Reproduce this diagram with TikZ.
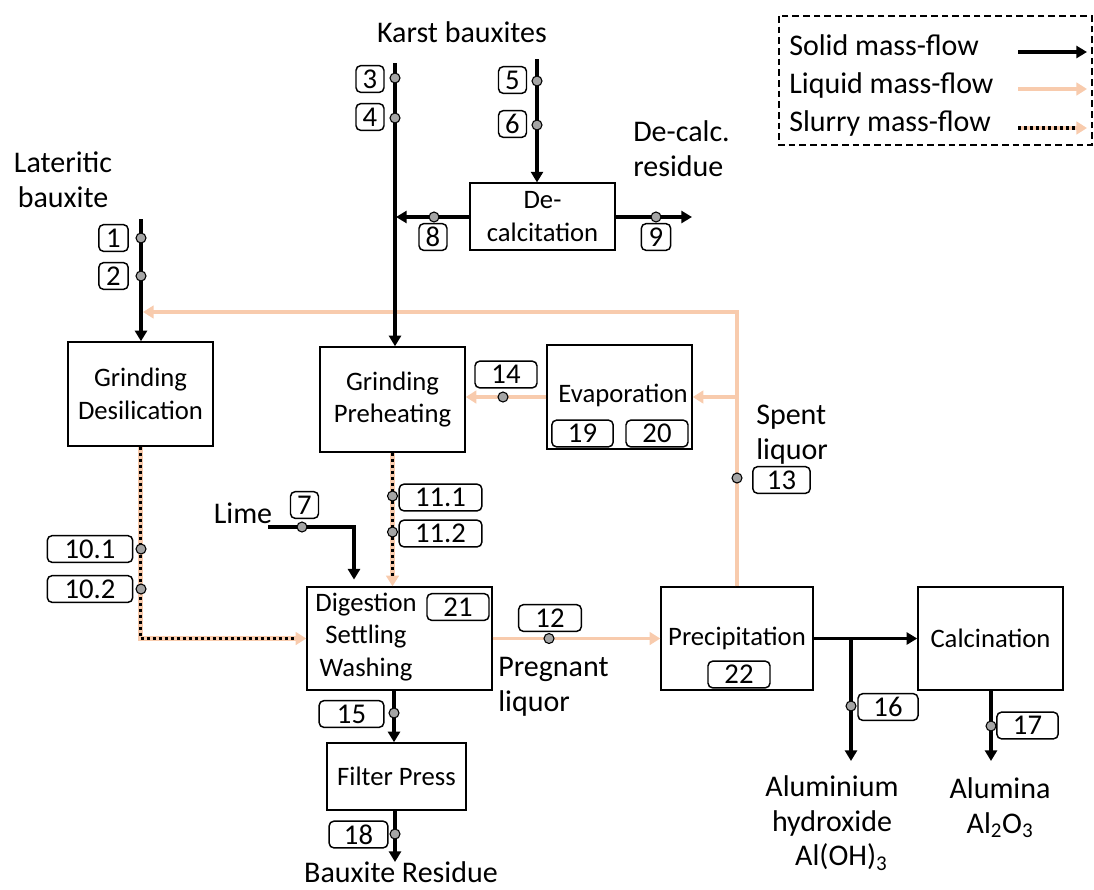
\documentclass[tikz,border=0pt]{standalone}
\usepackage{fontspec}
\setmainfont{Carlito}
\usetikzlibrary{arrows.meta}
\definecolor{liq}{RGB}{248,203,173}
\definecolor{dotgray}{RGB}{165,165,165}
\newcommand\freefont{\fontsize{22.5}{26}\selectfont}
\newcommand\boxfont{\fontsize{20}{24.5}\selectfont}
\newcommand\lblfont{\fontsize{21.5}{24}\selectfont}
\tikzset{
  proc/.style={draw, line width=1.1pt, inner sep=0pt, align=center, font=\boxfont},
  boxtxt/.style={inner sep=0pt, align=center, font=\boxfont},
  free/.style={inner sep=0pt, font=\freefont},
  lbl/.style={draw, rounded corners=3.5pt, line width=1.1pt, inner sep=0pt, minimum height=20pt, font=\lblfont},
  dot/.style={circle, draw, fill=dotgray, line width=0.8pt, minimum size=7.5pt, inner sep=0pt},
  solidflow/.style={draw=black, line width=2.8pt, -{Triangle[length=8pt,width=9pt]}},
  liquidflow/.style={draw=liq, line width=2.8pt, -{Triangle[length=8pt,width=9.5pt]}},
  slurryflow/.style={draw=liq, line width=3.2pt, -{Triangle[length=8pt,width=9.5pt]},
    postaction={draw=black, line width=2.6pt, dash pattern=on 2.5pt off 2pt, -, shorten >=8pt}},
  legendbox/.style={draw, line width=1pt, dash pattern=on 5pt off 3pt}
}
\begin{document}
\begin{tikzpicture}[x=0.75pt,y=-0.75pt]
\useasboundingbox (0,0) rectangle (1094,889);

% process boxes
\node[proc, minimum width=108.75pt, minimum height=78pt] (gd) at (140.5,394) {Grinding\\Desilication};
\node[proc, minimum width=108.75pt, minimum height=78.75pt] (gp) at (392.5,399.5) {Grinding\\Preheating};
\node[proc, minimum width=108.75pt, minimum height=78pt] (ev) at (619.5,397) {};
\node[boxtxt] (evt) at (623,395) {Evaporation};
\node[proc, minimum width=108.75pt, minimum height=50pt] (dc) at (542.5,216.5) {De-\\calcitation};
\node[proc, minimum width=138.75pt, minimum height=77.25pt] (dg) at (399.5,638.5) {};
\node[boxtxt] (dgt) at (366,637) {Digestion\\Settling\\Washing};
\node[proc, minimum width=104.25pt, minimum height=50.25pt] (fp) at (396.5,776.5) {Filter Press};
\node[proc, minimum width=114pt, minimum height=77.25pt] (pr) at (737,638.5) {Precipitation};
\node[proc, minimum width=108.75pt, minimum height=77.25pt] (ca) at (990.5,638.5) {Calcination};

% free texts
\node[free, anchor=base] (karst) at (462,42) {Karst bauxites};
\node[free, align=center] (lat) at (63,180) {Lateritic\\bauxite};
\node[free, anchor=west, align=left] (dcr) at (633,149) {De-calc.\\residue};
\node[free, anchor=west, align=left] (spent) at (756,435) {Spent\\liquor};
\node[free, anchor=west, align=left] (preg) at (498,687) {Pregnant\\liquor};
\node[free, anchor=base] (lime) at (243,523) {Lime};
\node[free, anchor=base] (bres) at (401,882) {Bauxite Residue};
\node[free, align=center] (aoh) at (832,823) {Aluminium\\hydroxide\\\hspace{14pt}Al(OH)\textsubscript{3}};
\node[free, align=center] (alu) at (1000,808) {Alumina\\Al\textsubscript{2}O\textsubscript{3}};

% legend
\draw[legendbox] (779,16) rectangle (1092,145);
\node[free, anchor=base west] (lgs) at (789,55) {Solid mass-flow};
\node[free, anchor=base west] (lgl) at (789,93) {Liquid mass-flow};
\node[free, anchor=base west] (lgy) at (789,131) {Slurry mass-flow};
\coordinate (lgs1) at (1018,52); \coordinate (lgs2) at (1087,52);
\coordinate (lgl1) at (1018,89); \coordinate (lgl2) at (1087,89);
\coordinate (lgy1) at (1018,128); \coordinate (lgy2) at (1087,128);
\draw[solidflow] (lgs1) -- (lgs2);
\draw[liquidflow] (lgl1) -- (lgl2);
\draw[slurryflow] (lgy1) -- (lgy2);

% liquid flows
\coordinate (spc) at (737,312);
\coordinate (latj) at (143,312);
\coordinate (evj) at (737,397);
\draw[liquidflow] (pr.north -| spc) -- (spc) -- (latj);
\draw[liquidflow] (evj) -- (ev.east);
\draw[liquidflow] (ev.west) -- (ev.west -| gp.east);
\draw[liquidflow] (dg.east) -- (pr.west);

% solid flows
\coordinate (latin) at (141,219);
\draw[solidflow] (latin) -- (latin |- gd.north);
\coordinate (k1) at (395,63);
\draw[solidflow] (k1) -- (k1 |- gp.north);
\coordinate (k2) at (537,59);
\draw[solidflow] (k2) -- (k2 |- dc.north);
\coordinate (j8) at (396,217);
\draw[solidflow] (dc.west |- j8) -- (j8);
\coordinate (out9) at (692,217);
\draw[solidflow] (dc.east |- out9) -- (out9);
\coordinate (limein) at (268,527);
\coordinate (limec) at (354,527);
\draw[solidflow, shorten >=5pt] (limein) -- (limec) -- (limec |- dg.north);
\coordinate (x15) at (394,690);
\draw[solidflow] (x15 |- dg.south) -- (x15 |- fp.north);
\coordinate (out18) at (395,862);
\draw[solidflow] (out18 |- fp.south) -- (out18);
\draw[solidflow] (pr.east) -- (ca.west);
\coordinate (br) at (851,638.5);
\coordinate (out16) at (851,761);
\draw[solidflow] (br) -- (out16);
\coordinate (out17) at (991,761);
\draw[solidflow] (out17 |- ca.south) -- (out17);

% slurry flows
\draw[slurryflow] (gd.south) |- (dg.west);
\draw[slurryflow] (gp.south) -- (gp.south |- dg.north);

% measuring points
\node[dot] (d1) at (141,238) {};   \node[lbl, minimum width=22pt] (l1) at (113.5,238) {1};
\node[dot] (d2) at (141,276) {};   \node[lbl, minimum width=22pt] (l2) at (113.5,276) {2};
\node[dot] (d3) at (395,78) {};    \node[lbl, minimum width=21pt] (l3) at (370,79) {3};
\node[dot] (d4) at (395,118) {};   \node[lbl, minimum width=21pt] (l4) at (370,117) {4};
\node[dot] (d5) at (537,81) {};    \node[lbl, minimum width=21pt] (l5) at (512.5,80) {5};
\node[dot] (d6) at (537,125) {};   \node[lbl, minimum width=21pt] (l6) at (512.5,124) {6};
\node[dot] (d7) at (302,527) {};   \node[lbl, minimum width=21pt] (l7) at (304.5,505) {7};
\node[dot] (d8) at (434,217) {};   \node[lbl, minimum width=21pt] (l8) at (433,237) {8};
\node[dot] (d9) at (656,217) {};   \node[lbl, minimum width=22pt] (l9) at (656,237) {9};
\node[dot] (d101) at (141,549) {}; \node[lbl, minimum width=64pt] (l101) at (90,549) {10.1};
\node[dot] (d102) at (141,589) {}; \node[lbl, minimum width=64pt] (l102) at (90,589) {10.2};
\node[dot] (d111) at (392.5,496) {}; \node[lbl, minimum width=62pt] (l111) at (440.5,497.5) {11.1};
\node[dot] (d112) at (392.5,532) {}; \node[lbl, minimum width=62pt] (l112) at (440.5,533.5) {11.2};
\node[dot] (d12) at (549,638.5) {}; \node[lbl, minimum width=47pt] (l12) at (550,618) {12};
\node[dot] (d13) at (737,478) {};  \node[lbl, minimum width=43pt] (l13) at (781.5,480) {13};
\node[dot] (d14) at (503,397) {};  \node[lbl, minimum width=46.5pt] (l14) at (506,374.5) {14};
\node[dot] (d15) at (394,713) {};  \node[lbl, minimum width=48.5pt] (l15) at (351.5,714) {15};
\node[dot] (d16) at (851,706) {};  \node[lbl, minimum width=45pt] (l16) at (888,707) {16};
\node[dot] (d17) at (991,726) {};  \node[lbl, minimum width=46pt] (l17) at (1027.5,725.5) {17};
\node[dot] (d18) at (395,834) {};  \node[lbl, minimum width=44pt] (l18) at (358.5,834.5) {18};
\node[lbl, minimum width=46pt] (l19) at (582.5,433.5) {19};
\node[lbl, minimum width=46.5pt] (l20) at (657,433.5) {20};
\node[lbl, minimum width=46.5pt] (l21) at (458,607) {21};
\node[lbl, minimum width=46.5pt] (l22) at (739,674.5) {22};
\end{tikzpicture}
\end{document}
